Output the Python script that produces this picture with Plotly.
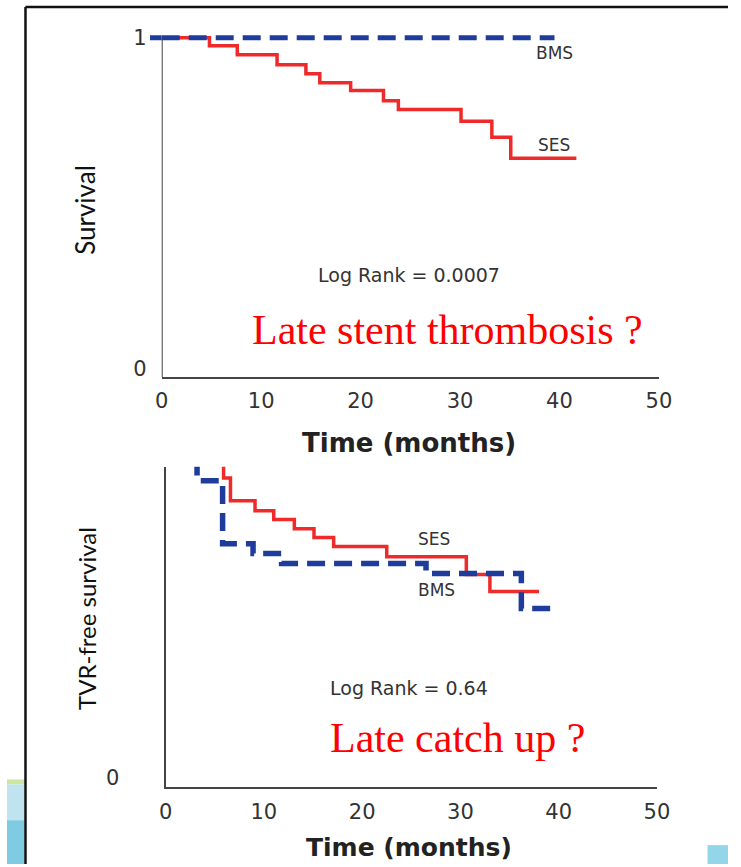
import plotly.graph_objects as go

W, H = 741, 867

# ---------------- data ----------------
top_ses_t = [0, 4.8, 7.6, 11.6, 14.5, 15.9, 19.0, 22.3, 23.8, 30.1, 33.2, 35.1, 41.7]
top_ses_s = [1.0, 0.977, 0.950, 0.921, 0.894, 0.868, 0.845, 0.815, 0.789, 0.754, 0.707, 0.645, 0.645]
top_bms_t = [0, 39.5]
top_bms_s = [1.0, 1.0]

bot_ses_t = [0, 5.9, 6.6, 9.1, 11.0, 13.1, 15.1, 17.1, 22.5, 30.6, 33.0, 38.0]
bot_ses_s = [1.0, 0.951, 0.881, 0.850, 0.823, 0.795, 0.768, 0.740, 0.709, 0.654, 0.602, 0.602]
bot_bms_t = [0, 3.2, 5.8, 8.9, 11.8, 26.5, 36.2, 39.6]
bot_bms_s = [1.0, 0.942, 0.749, 0.719, 0.688, 0.657, 0.550, 0.550]

x_ticks = [0, 10, 20, 30, 40, 50]
x_ticktext = ["0", "10", "20", "30", "40", "50"]

RED = "#ee2a2a"
BLUE = "#1f3c9c"
AX = "#444444"
TXT = "#333333"


def px(x):
    return x / W


def py(y):
    return 1 - y / H


fig = go.Figure()

# top panel
fig.add_trace(go.Scatter(x=top_ses_t, y=top_ses_s, mode="lines", line_shape="hv",
                         line=dict(color=RED, width=3.5), xaxis="x", yaxis="y", showlegend=False))
fig.add_trace(go.Scatter(x=top_bms_t, y=top_bms_s, mode="lines", line_shape="hv",
                         line=dict(color=BLUE, width=5, dash="18px,9px"), xaxis="x", yaxis="y",
                         showlegend=False))
# bottom panel
fig.add_trace(go.Scatter(x=bot_ses_t, y=bot_ses_s, mode="lines", line_shape="hv",
                         line=dict(color=RED, width=3.5), xaxis="x2", yaxis="y2", showlegend=False))
fig.add_trace(go.Scatter(x=bot_bms_t, y=bot_bms_s, mode="lines", line_shape="hv",
                         line=dict(color=BLUE, width=5.5, dash="18px,9px"), xaxis="x2", yaxis="y2",
                         showlegend=False))

tickfont = dict(family="DejaVu Sans", size=21, color=TXT)

# top axes: y=0 at px 378, y=1 at px 37 ; range top 1.03
top_y0, top_y1 = 378, 37
ppu_top = top_y0 - top_y1
top_range_max = 1.03
top_domain_top_px = top_y0 - top_range_max * ppu_top

fig.update_layout(
    xaxis=dict(domain=[px(159), px(670)], range=[0, 50], anchor="y",
               showline=True, linecolor=AX, linewidth=2, showgrid=False, zeroline=False,
               tickvals=x_ticks, ticktext=x_ticktext, ticks="", tickfont=tickfont,
               ticklabelstandoff=4),
    yaxis=dict(domain=[py(top_y0), py(top_domain_top_px)], range=[0, top_range_max], anchor="x",
               showline=False, showgrid=False, zeroline=False,
               tickvals=[0.026, 1], ticktext=["0", "1"], ticks="", tickfont=tickfont,
               ticklabelstandoff=14),
    xaxis2=dict(domain=[px(163), px(668)], range=[0, 50], anchor="y2",
                showline=True, linecolor=AX, linewidth=2, showgrid=False, zeroline=False,
                tickvals=x_ticks, ticktext=x_ticktext, ticks="", tickfont=tickfont,
                ticklabelstandoff=4),
    yaxis2=dict(domain=[py(790), py(468)], range=[0, 0.985], anchor="x2",
                showline=True, linecolor=AX, linewidth=2, showgrid=False, zeroline=False,
                tickvals=[0.03], ticktext=["0"], ticks="", tickfont=tickfont,
                ticklabelstandoff=40),
)

shapes = [
    # top y-axis line from 0 to 1
    dict(type="line", xref="x", yref="y", x0=0, x1=0, y0=0, y1=1,
         line=dict(color=AX, width=2)),
    # short tick at y=1 on the top panel
    dict(type="line", xref="paper", yref="y", x0=px(147), x1=px(159), y0=1, y1=1,
         line=dict(color=BLUE, width=5)),
    # slide frame
    dict(type="line", xref="paper", yref="paper", x0=px(19), x1=1, y0=py(6), y1=py(6),
         line=dict(color="#111111", width=2.5)),
    dict(type="line", xref="paper", yref="paper", x0=px(19), x1=px(19), y0=py(6), y1=0,
         line=dict(color="#111111", width=2.5)),
    # decoration bottom-left
    dict(type="rect", xref="paper", yref="paper", x0=0, x1=px(18), y0=py(787), y1=py(782),
         line=dict(width=0), fillcolor="#cfe6a0", layer="below"),
    dict(type="rect", xref="paper", yref="paper", x0=0, x1=px(18), y0=py(823), y1=py(787),
         line=dict(width=0), fillcolor="#bfe4f0", layer="below"),
    dict(type="rect", xref="paper", yref="paper", x0=0, x1=px(18), y0=0, y1=py(823),
         line=dict(width=0), fillcolor="#7fcce2", layer="below"),
    # decoration bottom-right
    dict(type="rect", xref="paper", yref="paper", x0=px(720), x1=1, y0=0, y1=py(848),
         line=dict(width=0), fillcolor="#93d6ea", layer="below"),
]


def ann(text, x, y, size, family="DejaVu Sans", color=TXT, angle=0, bold=False):
    if bold:
        text = "<b>" + text + "</b>"
    return dict(text=text, x=px(x), y=py(y), xref="paper", yref="paper",
                xanchor="center", yanchor="middle", showarrow=False, textangle=angle,
                font=dict(family=family, size=size, color=color))


annotations = [
    ann("Survival", 80, 210, 26, family="Lato", color="#111111", angle=-90),
    ann("TVR-free survival", 81, 620, 24, family="Lato", color="#111111", angle=-90),
    ann("Time (months)", 413, 444, 26, bold=True, color="#222222"),
    ann("Time (months)", 413, 850, 25, bold=True, color="#222222"),
    ann("BMS", 563, 52, 17),
    ann("SES", 562, 145, 17),
    ann("SES", 439, 540, 17),
    ann("BMS", 441, 592, 17),
    ann("Log Rank = 0.0007", 413, 275, 19),
    ann("Log Rank = 0.64", 413, 690, 19),
    ann("Late stent thrombosis ?", 453, 331, 42, family="Liberation Serif", color="#ff0000"),
    ann("Late catch up ?", 463, 740, 42, family="Liberation Serif", color="#ff0000"),
]

fig.update_layout(
    width=W, height=H, margin=dict(l=0, r=0, t=0, b=0),
    paper_bgcolor="white", plot_bgcolor="white",
    shapes=shapes, annotations=annotations, showlegend=False,
)

fig.write_html("out.html")
